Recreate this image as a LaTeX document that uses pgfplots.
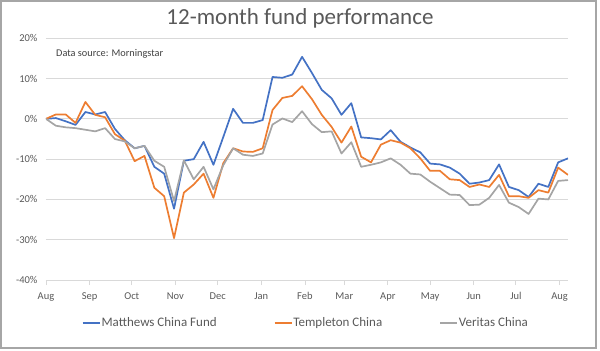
\documentclass[border=0pt]{standalone}
\usepackage{fontspec}
\setmainfont{Carlito}
\usepackage{pgfplots}
\pgfplotsset{compat=1.18}
\definecolor{cblue}{HTML}{4472C4}
\definecolor{corange}{HTML}{ED7D31}
\definecolor{cgray}{HTML}{A5A5A5}
\definecolor{gridc}{HTML}{D9D9D9}
\definecolor{txt}{HTML}{595959}
\definecolor{framec}{HTML}{A6A6A6}

\pgfplotstableread{
i blue orange gray
0 0 0 0
1 0.2 1.1 -1.7
2 -0.6 1.1 -2.1
3 -1.5 -1.0 -2.3
4 1.7 4.2 -2.7
5 1.1 1.0 -3.1
6 1.7 0.4 -2.3
7 -2.5 -3.8 -5.0
8 -5.3 -5.4 -5.6
9 -7.3 -10.5 -7.3
10 -6.7 -9.2 -6.7
11 -11.9 -17.1 -10.4
12 -13.6 -19.2 -11.9
13 -22.3 -29.6 -20.4
14 -10.4 -18.3 -10.3
15 -10.0 -16.3 -15.0
16 -5.7 -13.6 -11.9
17 -11.4 -19.6 -17.5
18 -4.5 -11.0 -11.5
19 2.5 -7.3 -7.3
20 -1.0 -8.1 -8.9
21 -1.0 -8.2 -9.2
22 -0.3 -7.3 -8.6
23 10.4 2.2 -1.4
24 10.2 5.2 0.1
25 11.0 5.7 -0.8
26 15.4 8.1 1.9
27 11.4 4.9 -1.3
28 7.2 1.0 -3.3
29 5.1 -2.0 -3.1
30 1.0 -5.9 -8.6
31 3.9 -1.9 -5.8
32 -4.6 -9.4 -11.9
33 -4.8 -10.8 -11.4
34 -5.1 -6.4 -10.8
35 -2.8 -5.3 -9.8
36 -5.7 -5.9 -11.4
37 -7.1 -7.3 -13.6
38 -8.3 -9.8 -13.8
39 -11.1 -12.9 -15.6
40 -11.3 -12.9 -17.2
41 -12.1 -15.0 -18.8
42 -13.6 -15.2 -18.9
43 -16.1 -16.9 -21.4
44 -15.8 -16.3 -21.3
45 -15.2 -16.9 -19.6
46 -11.3 -13.9 -16.4
47 -16.9 -19.2 -20.8
48 -17.7 -19.2 -21.9
49 -19.4 -19.6 -23.6
50 -16.1 -17.7 -19.8
51 -16.9 -18.3 -20.0
52 -10.8 -12.1 -15.4
53 -9.8 -13.9 -15.2
}\perf

\begin{document}
\begin{tikzpicture}
\path[use as bounding box] (0bp,0bp) rectangle (600bp,-351bp);
\draw[framec, line width=1.2bp] (1bp,-1bp) rectangle (596bp,-348bp);
\node[text=txt, font=\fontsize{23bp}{27bp}\selectfont] at (300bp,-18bp) {12-month fund performance};
\node[anchor=west, text=black!75, font=\fontsize{10.3bp}{12bp}\selectfont, inner sep=0pt] at (56bp,-54bp) {Data source: Morningstar};
\begin{axis}[
  at={(46bp,-280bp)}, anchor=south west,
  scale only axis, width=522bp, height=241.7bp,
  xmin=0, xmax=53, ymin=-40, ymax=20,
  axis x line*=bottom, axis y line*=left,
  y axis line style={draw=none},
  x axis line style={draw=gridc, line width=0.8bp},
  ytick={-40,-30,-20,-10,0,10,20},
  yticklabels={-40\%,-30\%,-20\%,-10\%,0\%,10\%,20\%},
  ytick style={draw=none},
  xtick={0,4.43,8.71,13.14,17.43,21.86,26.29,30.29,34.71,39.0,43.43,47.71,52.14},
  xticklabels={Aug,Sep,Oct,Nov,Dec,Jan,Feb,Mar,Apr,May,Jun,Jul,Aug},
  xtick style={draw=gridc, line width=0.8bp},
  tick align=outside, major tick length=5bp,
  ymajorgrids, grid style={draw=gridc, line width=0.8bp},
  ticklabel style={font=\fontsize{10.5bp}{12bp}\selectfont, text=txt},
  xticklabel style={yshift=-4bp},
  legend columns=3,
  legend style={draw=none, fill=none, at={(0.497,-0.178)}, anchor=center,
    font=\fontsize{13bp}{15bp}\selectfont, text=txt,
    /tikz/every even column/.append style={column sep=56bp},
    inner sep=0pt, nodes={inner xsep=1bp}},
  legend image code/.code={\draw[#1] (0bp,0bp) -- (17bp,0bp);},
  every axis plot/.append style={line width=1.7bp, line join=round, no marks},
]
\addplot[cblue] table[x=i, y=blue] {\perf};
\addlegendentry{Matthews China Fund}
\addplot[corange] table[x=i, y=orange] {\perf};
\addlegendentry{Templeton China}
\addplot[cgray] table[x=i, y=gray] {\perf};
\addlegendentry{Veritas China}
\end{axis}
\end{tikzpicture}
\end{document}
